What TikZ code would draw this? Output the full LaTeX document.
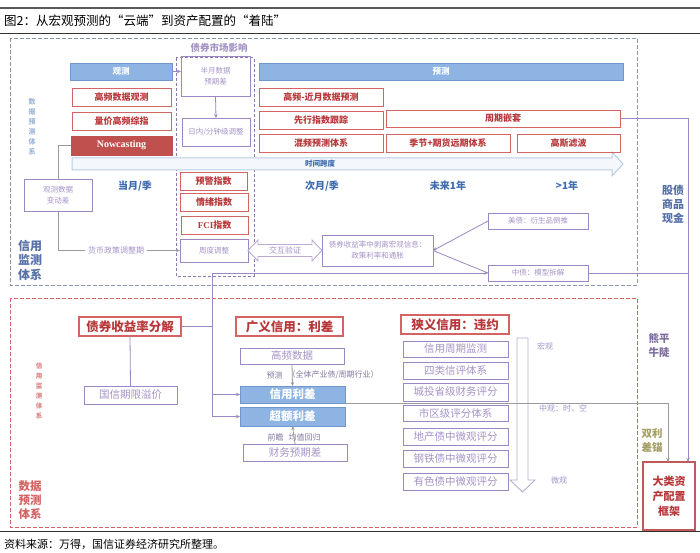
\documentclass[tikz,border=0pt]{standalone}
\usepackage{fontspec}
\setmainfont{Noto Sans CJK SC}
\newfontfamily\lserif{Liberation Serif}
\usetikzlibrary{arrows.meta}
\definecolor{bfill}{HTML}{8DB4E2}
\definecolor{bdraw}{HTML}{6F97CB}
\definecolor{rdraw}{HTML}{D46464}
\definecolor{rtext}{HTML}{B8373A}
\definecolor{pdraw}{HTML}{9B87C2}
\definecolor{ptext}{HTML}{A493C6}
\definecolor{nfill}{HTML}{C0504D}
\definecolor{gdash}{HTML}{8A96AE}
\definecolor{blab}{HTML}{3F6CB0}
\definecolor{blab2}{HTML}{5670A8}
\definecolor{oliv}{HTML}{A39E63}
\definecolor{glin}{HTML}{9A9A9A}
\definecolor{tarrow}{HTML}{B9CDE5}
\definecolor{tfill}{HTML}{F4F8FC}
\newcommand\fs[2]{\fontsize{#1}{#2}\selectfont}
\newcommand\mybox[7]{\node[#1, minimum width={(#5-#3)*1pt}, minimum height={(#6-#4)*1pt}] (#2) at ({(#3+#5)/2},{(#4+#6)/2}) {#7};}
\tikzset{
 base/.style={inner sep=0.5pt, outer sep=0pt, align=center},
 rbox/.style={base, draw=rdraw, line width=0.9pt, text=rtext, font=\fs{9}{11}\bfseries},
 pbox/.style={base, draw=pdraw, line width=0.9pt, text=ptext, font=\fs{7.5}{11}},
 bbar/.style={base, draw=bdraw, fill=bfill, line width=0.8pt, text=white, font=\fs{8.5}{10}\bfseries},
 nbox/.style={base, draw=nfill, fill=nfill, text=white, font=\fs{10}{12}\bfseries},
 rbig/.style={base, draw=rdraw, line width=1.1pt, text=rtext, font=\fs{12.5}{14}\bfseries},
 pbig/.style={base, draw=pdraw, line width=1pt, text=ptext, font=\fs{10.5}{12}},
 bbig/.style={base, draw=bdraw, fill=bfill, line width=0.8pt, text=white, font=\fs{11.5}{13}\bfseries},
 bigbox/.style={base, draw=rdraw!90!black, line width=1.4pt, text=rtext, font=\fs{11}{15}\bfseries},
 per/.style={base, text=blab, font=\fs{10}{12}\bfseries},
 plab/.style={base, text=ptext, font=\fs{8}{10}},
 glab/.style={base, text=ptext!80!black, font=\fs{8}{10}},
 pline/.style={draw=pdraw, line width=0.8pt},
 gline/.style={draw=glin, line width=0.8pt},
 arr/.style={-{Stealth[length=4pt,width=3.5pt]}},
}
\begin{document}
\begin{tikzpicture}[x=1pt,y=-1pt]
\path[use as bounding box] (0,0) rectangle (700,553);
% frame lines
\draw[black!65, line width=1.3pt] (0,8) -- (700,8);
\draw[black!80, line width=1pt] (0,34) -- (700,34);
\draw[black!80, line width=1pt] (0,531) -- (700,531);
\node[anchor=west, inner sep=0pt, font=\fs{12.5}{14}] (title) at (4,21) {图2：从宏观预测的“云端”到资产配置的“着陆”};
\node[anchor=west, inner sep=0pt, font=\fs{11}{13}] (src) at (4,544) {资料来源：万得，国信证券经济研究所整理。};
% dashed regions
\draw[gdash, line width=0.9pt, dash pattern=on 4pt off 2pt] (10,38) rectangle (637,285);
\draw[rdraw, line width=0.9pt, dash pattern=on 4pt off 2pt] (10,298) rectangle (637,527);
\draw[pdraw!90!black, line width=1pt, dash pattern=on 3pt off 2pt] (176,58) rectangle (254,276);
\node[base, text=ptext, font=\fs{9.5}{11}\bfseries] (mkt) at (219,48) {债券市场影响};
% time arrow
\draw[tarrow, fill=tfill, line width=1pt] (72,158) -- (612,158) -- (612,152) -- (623,164) -- (612,176) -- (612,170) -- (72,170) -- cycle;
\node[base, text=blab, font=\fs{7.5}{9}\bfseries] (tspan) at (320,164) {时间跨度};
% top section nodes
\mybox{bbar}{obs}{70}{63}{172}{80}{观测}
\mybox{bbar}{pred}{259}{63}{623}{80}{预测}
\mybox{pbox}{half}{181}{56}{250}{96}{半月数据\\预期差}
\mybox{pbox}{intra}{182}{118}{250}{146}{日内/分钟级调整}
\mybox{rbox}{hfo}{72}{88}{171}{106}{高频数据观测}
\mybox{rbox}{vol}{72}{112}{171}{130}{量价高频综指}
\mybox{nbox}{nowc}{71}{136}{172}{155}{\lserif\bfseries Nowcasting}
\mybox{rbox}{hfp}{259}{88}{383}{106}{高频-近月数据预测}
\mybox{rbox}{lead}{259}{111}{383}{129}{先行指数跟踪}
\mybox{rbox}{cyc}{386}{110}{620}{127}{周期嵌套}
\mybox{rbox}{mix}{259}{134}{383}{152}{混频预测体系}
\mybox{rbox}{sea}{386}{134}{510}{152}{季节+期货远期体系}
\mybox{rbox}{gau}{517}{134}{620}{152}{高斯滤波}
\node[per] (p1) at (135,186) {当月/季};
\node[per] (p2) at (322,186) {次月/季};
\node[per] (p3) at (448,186) {未来1年};
\node[per] (p4) at (567,186) {>1年};
\node[base, text=blab!50, font=\fs{7}{10}\bfseries] (vlab1) at (32,127) {数\\据\\预\\测\\体\\系};
\node[base, text=blab2, font=\fs{12}{14.5}\bfseries] (vlab2) at (30,260) {信用\\监测\\体系};
\node[base, text=blab2, font=\fs{11}{14}\bfseries] (vlab3) at (673,204) {股债\\商品\\现金};
\mybox{pbox}{chg}{24}{179}{92}{211}{观测数据\\变动差}
\mybox{rbox}{warn}{180}{172}{247}{190}{预警指数}
\mybox{rbox}{emo}{180}{193}{248}{211}{情绪指数}
\mybox{rbox}{fci}{181}{216}{248}{234}{{\lserif\bfseries FCI}指数}
\mybox{pbox}{week}{180}{239}{248}{262}{周度调整}
\node[base, inner sep=3pt, text=ptext, font=\fs{8}{10}] (money) at (116,250.5) {货币政策调整期};
\mybox{pbox}{bi}{322}{235}{433}{266}{债券收益率中剥离宏观信息：\\政策利率和通胀}
\mybox{pbox}{us}{488}{213}{588}{229}{美债：衍生品倒推}
\mybox{pbox}{cn}{488}{265}{588}{281}{中债：模型拆解}
% interactive double arrow
\draw[pdraw!70, fill=white, line width=0.9pt] (248,250.5) -- (258,240) -- (258,244.5) -- (312,244.5) -- (312,240) -- (322,250.5) -- (312,261) -- (312,256.5) -- (258,256.5) -- (258,261) -- cycle;
\node[base, text=ptext, font=\fs{8}{10}] (xv) at (285,250.5) {交互验证};
% lower section nodes
\mybox{rbig}{dec}{79}{317}{181}{336}{债券收益率分解}
\mybox{rbig}{broad}{236}{317}{343}{336}{广义信用：利差}
\mybox{rbig}{narrow}{401}{315}{509}{334}{狭义信用：违约}
\mybox{pbig}{ctp}{84}{386}{177}{404}{国信期限溢价}
\mybox{pbig}{hf}{240}{348}{344}{364}{高频数据}
\mybox{bbig}{cs}{240}{386}{345}{403}{信用利差}
\mybox{bbig}{es}{240}{407}{345}{426}{超额利差}
\mybox{pbig}{fin}{243}{444}{347}{461}{财务预期差}
% down hollow arrow
\draw[pdraw!70, fill=white, line width=0.9pt] (517,338) -- (528,338) -- (528,480) -- (535,480) -- (522.5,492) -- (510,480) -- (517,480) -- cycle;
\mybox{pbig}{c1}{403}{341}{508}{357}{信用周期监测}
\mybox{pbig}{c2}{403}{362}{508}{379}{四类信评体系}
\mybox{pbig}{c3}{403}{383}{508}{401}{城投省级财务评分}
\mybox{pbig}{c4}{403}{405}{508}{421}{市区级评分体系}
\mybox{pbig}{c5}{403}{428}{508}{445}{地产债中微观评分}
\mybox{pbig}{c6}{403}{450}{508}{467}{钢铁债中微观评分}
\mybox{pbig}{c7}{403}{473}{508}{490}{有色债中微观评分}
\node[plab] (macro) at (545,346) {宏观};
\node[plab] (meso) at (563,408) {中观：时、空};
\node[plab] (micro) at (559,480) {微观};
\node[glab, anchor=east] (f1) at (283,375) {预测};
\node[glab, anchor=west] (f2) at (287,375) {（全体产业债/周期行业）};
\node[glab, anchor=east] (f3) at (284,437) {前瞻};
\node[glab, anchor=west] (f4) at (288,437) {均值回归};
\node[base, text=rdraw!80, font=\fs{6.5}{10}\bfseries] (vlab4) at (39,391) {信\\用\\监\\测\\体\\系};
\node[base, text=rdraw, font=\fs{11.5}{14}\bfseries] (vlab5) at (30,500) {数据\\预测\\体系};
\node[base, text=pdraw!80!black, font=\fs{10.5}{14}\bfseries] (bear) at (659,345) {熊平\\牛陡};
\node[base, text=oliv, font=\fs{10.5}{14}\bfseries] (anch) at (652,441) {双利\\差锚};
\mybox{bigbox}{big}{643}{462}{695}{530}{大类资\\产配置\\框架}
% coordinates
\coordinate (tt) at (212,273);
\coordinate (rc) at (688,119);
\coordinate (gc) at (668,403);
% connectors
\draw[pline, arr] (obs.east) -- (obs.east -| half.west);
\draw[pline, arr] (half.south) -- (intra.north);
\draw[gline] (nowc.west) -| (chg.north);
\draw[gline] (chg.south) |- (money.west);
\draw[gline, arr] (money.east) -- (week.west);
\draw[pline, arr] (us.west) -- (bi.east);
\draw[pline] (bi.east) -- (cn.west);
\draw[pline, arr] (tt) -- (tt -| cn.west);
\draw[pline] (tt) -- (tt |- es.west);
\draw[pline, line width=1.6pt] (dec.east) -- (dec.east -| tt);
\draw[pline, arr] (tt |- cs.west) -- (cs.west);
\draw[pline, arr] (tt |- es.west) -- (es.west);
\draw[pline] (dec.south) -- (ctp.north);
\draw[gline, arr] (hf.south) -- (cs.north);
\draw[gline, arr] (fin.north) -- (es.south);
\draw[pline, line width=1pt, arr] (cyc.east) -| (big.north -| rc);
\draw[pline, line width=1pt] (cn.east) -- (cn.east -| rc);
\draw[gline, arr] (cs.south east) -| (big.north -| gc);
\end{tikzpicture}
\end{document}
